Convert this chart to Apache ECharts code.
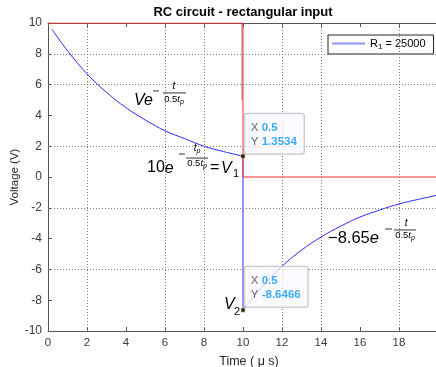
<!DOCTYPE html>
<html><head><meta charset="utf-8">
<script src="https://cdn.jsdelivr.net/npm/echarts@6/dist/echarts.min.js"></script>
<style>html,body{margin:0;padding:0;background:#fff}#c{width:436px;height:367px}</style>
</head><body><div id="c"></div>
<script>
const FONT = "'Liberation Sans', Arial, Helvetica, sans-serif";
const titleText = 'RC circuit - rectangular input';
const xName = 'Time ( \u03bc s)';
const yName = 'Voltage (V)';
const seriesName = 'R1 = 25000';
const xMin = 0, xMax = 20, xStep = 2;
const yMin = -10, yMax = 10, yStep = 2;
const xGrid = [2, 6, 8, 12, 14, 18];
const yGrid = [8, 6, 2, -2, -6];
// rectangular input (red)
const inputT = [0, 10, 10, 20];
const inputV = [10, 10, 0, 0];
// resistor voltage (blue)
const decayT = [0.2, 1, 2, 3, 4, 5, 6, 7, 8, 9, 10];
const decayV = [9.6, 8.2, 6.7, 5.5, 4.5, 3.7, 3.0, 2.5, 2.0, 1.65, 1.3534];
const jumpT = [10, 10];
const jumpV = [1.3534, -8.6466];
const recovT = [10, 11, 12, 13, 14, 15, 16, 17, 18, 19, 20];
const recovV = [-8.6466, -7.1, -5.8, -4.75, -3.9, -3.2, -2.6, -2.15, -1.75, -1.45, -1.17];
// dark edge next to the step
const edgeT = [9.95, 9.95];
const edgeV = [10, 5];
// data tips
const tipT = [10, 10];
const tipV = [1.3534, -8.6466];
const tipXText = ['0.5', '0.5'];
const tipYText = ['1.3534', '-8.6466'];
// annotation anchors (data coords)
const annA = [4.41, 4.94];
const annB = [5.08, 0.58];
const annC = [14.36, -3.96];
const annD = [9.03, -8.31];

const zip = (a, b) => a.map((v, i) => [v, b[i]]);
const axisColor = '#555555';
const blue = '#2a2aff';
const red = '#ff2a2a';

const chart = echarts.init(document.getElementById('c'), null, {renderer: 'canvas'});
const commonX = {type: 'value', min: xMin, max: xMax, interval: xStep, splitLine: {show: false}};
const option = {
  animation: false,
  textStyle: {fontFamily: FONT},
  grid: {left: 48, right: -2, top: 23, bottom: 36, containLabel: false, outerBoundsMode: 'none'},
  legend: {
    left: 328, top: 35, padding: [3, 8, 3, 4], itemWidth: 33, itemHeight: 2,
    backgroundColor: '#fff', borderColor: '#262626', borderWidth: 1, borderRadius: 0,
    data: [{name: seriesName, icon: 'rect', itemStyle: {color: '#8f8fff'}}],
    formatter: () => '{n|R}{s|1}{n| = 25000}',
    textStyle: {color: '#000', fontSize: 11, fontFamily: FONT,
      rich: {n: {fontSize: 11, lineHeight: 15, fontFamily: FONT},
             s: {fontSize: 8, lineHeight: 15, verticalAlign: 'bottom', fontFamily: FONT}}}
  },
  xAxis: [
    Object.assign({}, commonX, {position: 'bottom',
      axisLine: {show: true, onZero: false, lineStyle: {color: axisColor, width: 1}},
      axisTick: {show: true, inside: true, length: 4, lineStyle: {color: axisColor}},
      axisLabel: {color: '#3a3a3a', fontSize: 11.5, margin: 6, showMaxLabel: false, fontFamily: FONT},
      name: xName, nameLocation: 'middle', nameGap: 24, nameMoveOverlap: false,
      nameTextStyle: {color: '#262626', fontSize: 12.5, fontFamily: FONT, padding: [0, 0, 0, 12]}}),
    Object.assign({}, commonX, {position: 'top',
      axisLine: {show: true, onZero: false, lineStyle: {color: axisColor, width: 1}},
      axisTick: {show: true, inside: true, length: 4, lineStyle: {color: axisColor}},
      axisLabel: {show: false}})
  ],
  yAxis: [{type: 'value', min: yMin, max: yMax, interval: yStep, splitLine: {show: false},
    axisLine: {show: true, onZero: false, lineStyle: {color: axisColor, width: 1}},
    axisTick: {show: true, inside: true, length: 4, lineStyle: {color: axisColor}},
    axisLabel: {color: '#3a3a3a', fontSize: 12, margin: 6, fontFamily: FONT},
    name: yName, nameLocation: 'middle', nameGap: 27, nameRotate: 90, nameMoveOverlap: false,
    nameTextStyle: {color: '#262626', fontSize: 11.5, fontFamily: FONT}}],
  series: [
    {type: 'line', name: '_grid', data: [[xMin, yMin]], showSymbol: false, lineStyle: {opacity: 0}, z: 1, silent: true,
     markLine: {silent: true, symbol: ['none', 'none'], label: {show: false}, animation: false,
       lineStyle: {color: '#7a7a7a', type: [1, 2], width: 1},
       emphasis: {disabled: true},
       data: [...xGrid.map(v => ({xAxis: v})), ...yGrid.map(v => ({yAxis: v}))]}},
    {type: 'line', name: seriesName, data: zip(decayT, decayV), smooth: 0.4, showSymbol: false,
     lineStyle: {color: blue, width: 1}, itemStyle: {color: blue}, z: 2},
    {type: 'line', name: '_jump', data: zip(jumpT, jumpV), showSymbol: false,
     lineStyle: {color: blue, width: 1}, z: 2},
    {type: 'line', name: '_recov', data: zip(recovT, recovV), smooth: 0.4, showSymbol: false,
     lineStyle: {color: blue, width: 1}, z: 2},
    {type: 'line', name: '_edge', data: zip(edgeT, edgeV), showSymbol: false,
     lineStyle: {color: '#555', width: 0.8}, z: 2},
    {type: 'line', name: '_input', data: zip(inputT, inputV), showSymbol: false,
     lineStyle: {color: red, width: 1}, z: 3},
    {type: 'scatter', name: '_tips', symbol: 'rect', symbolSize: 4, z: 10,
     itemStyle: {color: '#000', borderColor: '#e0d050', borderWidth: 0.6},
     label: {show: true, backgroundColor: 'rgba(250,250,255,0.96)', borderColor: '#b4b4b4', borderWidth: 1,
       borderRadius: 2, padding: [7, 7, 5, 6], align: 'left', verticalAlign: 'top',
       rich: {k: {color: '#404040', fontSize: 11.5, lineHeight: 14, fontFamily: FONT},
              v: {color: '#0a96f5', fontSize: 11.5, lineHeight: 14, fontWeight: 'bold', fontFamily: FONT}}},
     data: tipT.map((t, i) => ({value: [t, tipV[i]],
       label: {position: [4, i === 0 ? -40 : -41],
         formatter: '{k|X} {v|' + tipXText[i] + '}\n{k|Y} {v|' + tipYText[i] + '}'}}))}
  ]
};
chart.setOption(option);

const P = p => chart.convertToPixel({gridIndex: 0}, p);
const txt = (x, y, text, size, italic, align, extra) => ({type: 'text', x, y, z: 100,
  style: Object.assign({text, fill: '#000', align: align || 'left', verticalAlign: 'middle',
    font: (italic ? 'italic ' : '') + size + 'px ' + FONT}, extra || {})});
const hl = (x1, x2, y) => ({type: 'line', z: 100, shape: {x1, y1: y, x2, y2: y}, style: {stroke: '#000', lineWidth: 0.8}});
const richStyle = (sz) => ({
  u: {fontSize: sz, fontFamily: FONT, lineHeight: sz + 3},
  i: {fontSize: sz, fontStyle: 'italic', fontFamily: FONT, lineHeight: sz + 3},
  s: {fontSize: Math.round(sz * 0.72), fontStyle: 'italic', fontFamily: FONT, lineHeight: sz + 3, verticalAlign: 'bottom'}
});
const rtxt = (x, y, text, sz, align) => ({type: 'text', x, y, z: 100,
  style: {text, fill: '#000', align: align || 'left', verticalAlign: 'middle', rich: richStyle(sz)}});

const a = P(annA), b = P(annB), c = P(annC), d = P(annD);
const cx = chart.convertToPixel({xAxisIndex: 0}, (xMin + xMax) / 2);
chart.setOption({graphic: [
  {type: 'text', x: cx, y: 12, z: 100, style: {text: titleText, align: 'center', verticalAlign: 'middle',
    font: 'bold 13px ' + FONT, fill: '#000'}},
  {type: 'group', x: a[0], y: a[1], children: [
    txt(0, 0, 'Ve', 16, true),
    hl(19, 25, -10),
    txt(40, -15, 't', 10, true, 'center'),
    hl(29, 52, -8),
    rtxt(40, -2, '{u|0.5}{i|t}{s|p}', 9.5, 'center')
  ]},
  {type: 'group', x: b[0], y: b[1], children: [
    rtxt(0, 0, '{u|10}{i|e}', 16, 'left'),
    hl(32, 38, -14),
    rtxt(50, -20, '{i|t}{s|p}', 10, 'center'),
    hl(39, 61, -10),
    rtxt(50, -5, '{u|0.5}{i|t}{s|p}', 9.5, 'center'),
    txt(63, 0, '=', 16, false),
    txt(74, 0, 'V', 16, true),
    txt(86, 6, '1', 11, false)
  ]},
  {type: 'group', x: c[0], y: c[1], children: [
    rtxt(0, 0, '{u|\u22128.65}{i|e}', 16.5, 'left'),
    hl(57, 64, -9),
    txt(78, -15, 't', 10, true, 'center'),
    hl(66, 88, -8),
    rtxt(77, -3, '{u|0.5}{i|t}{s|p}', 9.5, 'center')
  ]},
  {type: 'group', x: d[0], y: d[1], children: [
    txt(0, 0, 'V', 16, true),
    txt(10, 7, '2', 11, false)
  ]}
]});
</script>
</body></html>
